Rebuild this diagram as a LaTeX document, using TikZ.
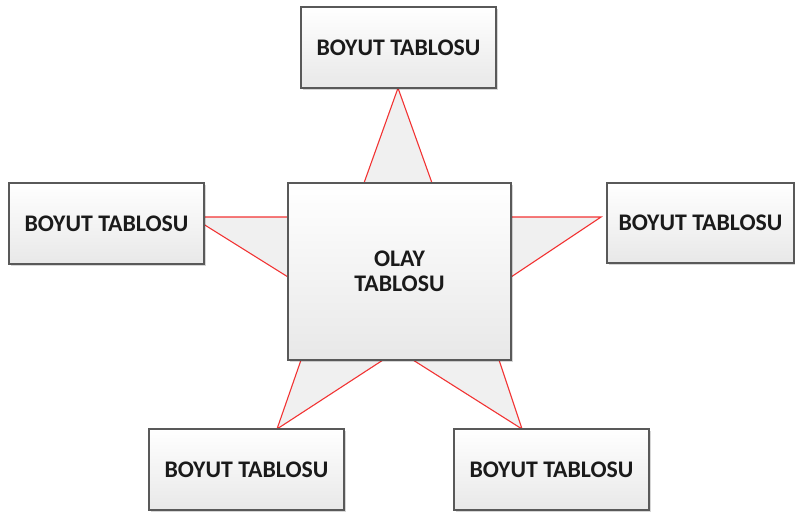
\documentclass[tikz,border=0pt]{standalone}
\usepackage{fontspec}
\setmainfont{Carlito}
\usetikzlibrary{shadows}
\definecolor{boxedge}{HTML}{595959}
\definecolor{boxlow}{HTML}{E8E8E8}
\definecolor{starfill}{HTML}{F0F0F0}
\definecolor{starline}{HTML}{F23333}
\definecolor{inktext}{HTML}{1A1A1A}
\tikzset{
  table/.style={draw=boxedge, line width=1.1pt, top color=white, bottom color=boxlow,
    drop shadow={shadow xshift=2pt, shadow yshift=-2pt, fill=black, opacity=0.16},
    text=inktext, font=\fontsize{23.8}{25}\selectfont\bfseries, align=center,
    inner sep=0pt},
  dimtable/.style={table, minimum width=195pt, minimum height=81pt},
  ray/.style={fill=starfill, draw=starline, line width=1.1pt, line join=miter}
}
\begin{document}
\begin{tikzpicture}[x=1pt, y=-1pt]
\useasboundingbox (0,0) rectangle (795,512);
% star rays behind the tables
\draw[ray] (364,183) -- (398,88) -- (432,183);
\draw[ray] (288,217) -- (192,217) -- (288,277);
\draw[ray] (511,217) -- (601,217) -- (511,277);
\draw[ray] (301,360) -- (277,429) -- (383,360);
\draw[ray] (413,360) -- (522,429) -- (499,360);
% fact table
\node[table, minimum width=223pt, minimum height=177pt] (fact) at (399.5,271.5) {OLAY\\TABLOSU};
% dimension tables
\node[dimtable] (dtop) at (398.5,47.5) {BOYUT TABLOSU};
\node[dimtable] (dleft) at (106.5,223.5) {BOYUT TABLOSU};
\node[dimtable, minimum width=187pt, minimum height=80pt] (dright) at (700.5,223) {BOYUT TABLOSU};
\node[dimtable] (dbl) at (246.5,469.5) {BOYUT TABLOSU};
\node[dimtable] (dbr) at (551.5,469.5) {BOYUT TABLOSU};
\end{tikzpicture}
\end{document}
